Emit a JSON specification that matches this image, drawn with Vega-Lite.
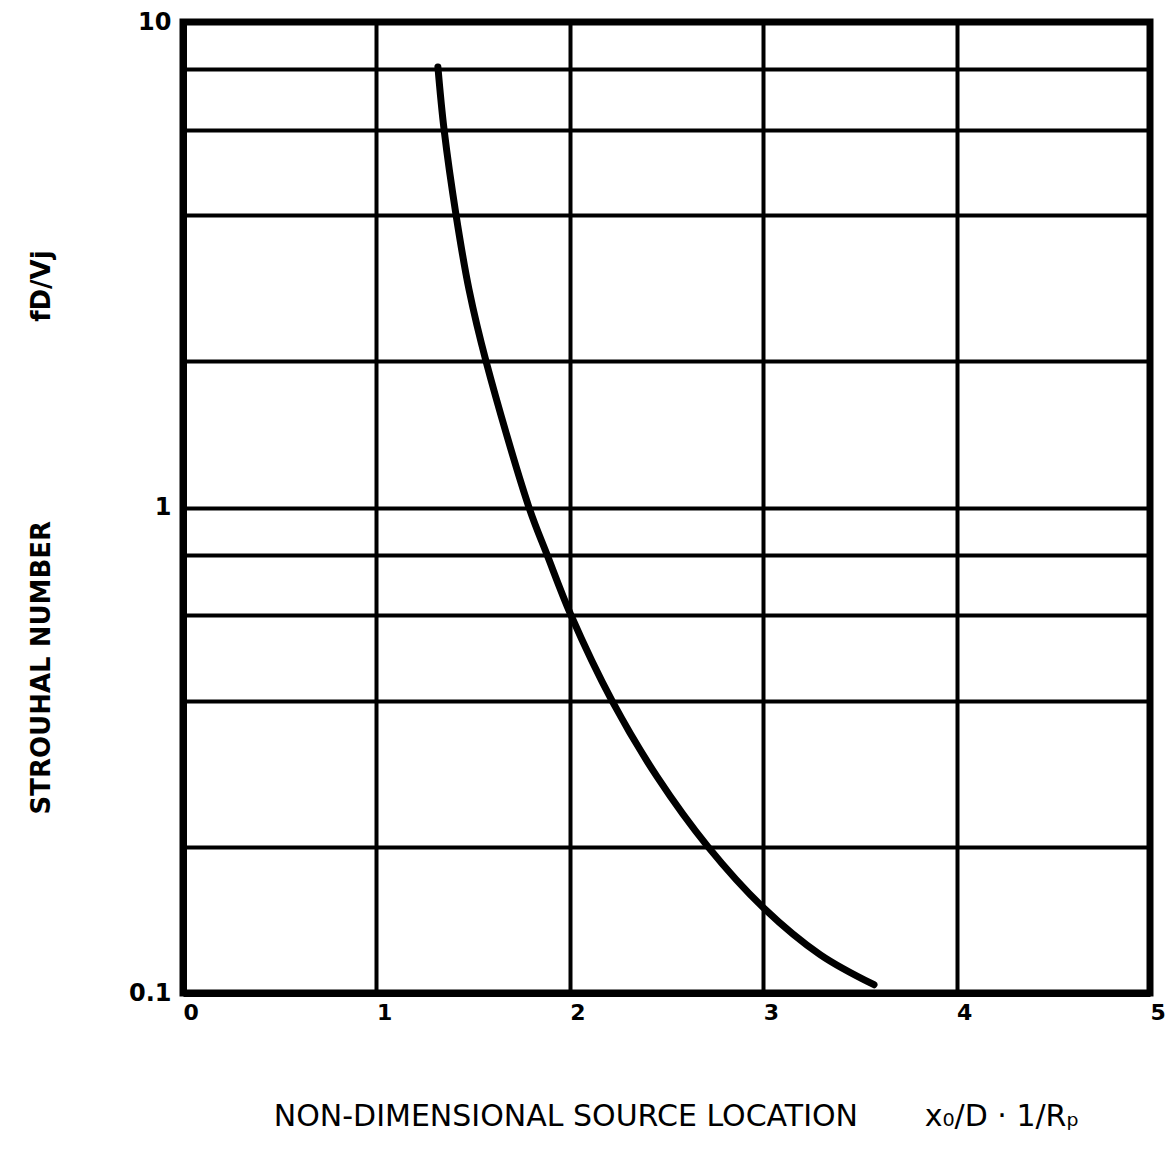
{
  "$schema": "https://vega.github.io/schema/vega-lite/v6.json",
  "width": 967,
  "height": 971,
  "autosize": {"type": "none"},
  "padding": {"left": 183, "top": 22, "right": 25, "bottom": 179},
  "background": "white",
  "config": {
    "view": {"stroke": "black", "strokeWidth": 7},
    "font": "DejaVu Sans"
  },
  "data": {
    "values": [
      {"x": 1.318, "y": 8.08},
      {"x": 1.35, "y": 6.0},
      {"x": 1.412, "y": 4.0},
      {"x": 1.479, "y": 2.81},
      {"x": 1.567, "y": 2.0},
      {"x": 1.789, "y": 1.0},
      {"x": 1.882, "y": 0.8},
      {"x": 2.006, "y": 0.6},
      {"x": 2.218, "y": 0.4},
      {"x": 2.451, "y": 0.279},
      {"x": 2.715, "y": 0.2},
      {"x": 3.0, "y": 0.15},
      {"x": 3.294, "y": 0.12},
      {"x": 3.573, "y": 0.104}
    ]
  },
  "mark": {"type": "line", "color": "black", "strokeWidth": 7, "interpolate": "catmull-rom", "strokeCap": "round"},
  "encoding": {
    "x": {
      "field": "x",
      "type": "quantitative",
      "scale": {"domain": [0, 5], "nice": false, "zero": false},
      "axis": {
        "values": [0, 1, 2, 3, 4, 5],
        "grid": true,
        "gridColor": "black",
        "gridWidth": 4,
        "gridOpacity": 1,
        "domainColor": "black",
        "domainWidth": 7,
        "ticks": false,
        "labelPadding": 9,
        "labelFontSize": 22,
        "labelFontWeight": "bold",
        "labelColor": "black",
        "labelAlign": "left",
        "labelDx": -3,
        "labelFlush": false,
        "title": "NON-DIMENSIONAL SOURCE LOCATION\u00a0\u00a0\u00a0\u00a0\u00a0\u00a0\u00a0x₀/D · 1/Rₚ",
        "titleFontSize": 30,
        "titleFontWeight": "normal",
        "titleColor": "black",
        "titlePadding": 78,
        "titleX": 493
      }
    },
    "y": {
      "field": "y",
      "type": "quantitative",
      "scale": {"type": "log", "domain": [0.1, 10], "nice": false},
      "axis": {
        "values": [0.1, 0.2, 0.4, 0.6, 0.8, 1, 2, 4, 6, 8, 10],
        "labelExpr": "datum.value == 10 ? '10' : datum.value == 1 ? '1' : datum.value == 0.1 ? '0.1' : ''",
        "grid": true,
        "gridColor": "black",
        "gridWidth": 4,
        "gridOpacity": 1,
        "domainColor": "black",
        "domainWidth": 7,
        "ticks": false,
        "labelPadding": 12,
        "labelFontSize": 24,
        "labelFontWeight": "bold",
        "labelColor": "black",
        "labelFlush": false,
        "labelOverlap": false,
        "title": "STROUHAL NUMBER\u00a0\u00a0\u00a0\u00a0\u00a0\u00a0\u00a0\u00a0\u00a0\u00a0\u00a0\u00a0\u00a0\u00a0\u00a0\u00a0\u00a0\u00a0\u00a0\u00a0\u00a0\u00a0fD/Vj",
        "titleFontSize": 26,
        "titleFontWeight": "bold",
        "titleColor": "black",
        "titlePadding": 74,
        "titleY": 510
      }
    }
  }
}
